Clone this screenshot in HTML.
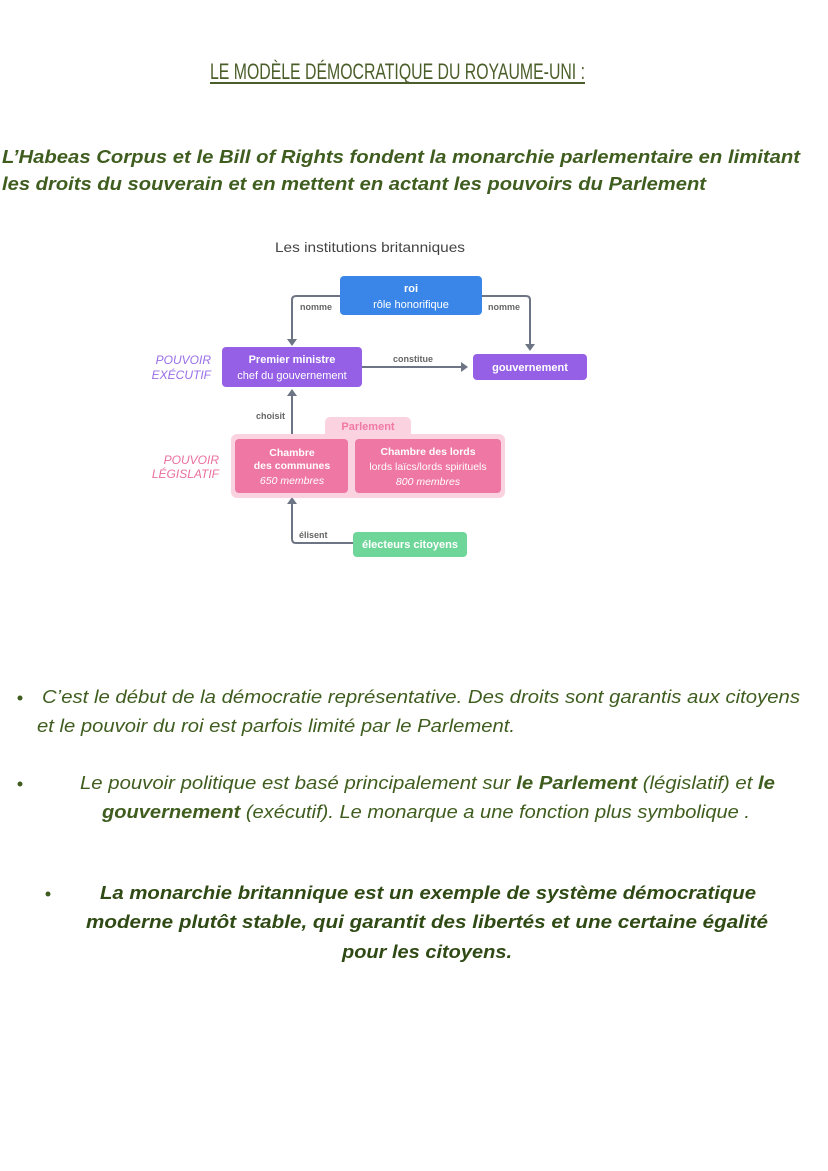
<!DOCTYPE html>
<html><head><meta charset="utf-8"><style>
html,body{margin:0;padding:0;background:#fff;}
svg{display:block;}
text{font-family:"Liberation Sans",sans-serif;}
</style></head><body>
<svg width="828" height="1171" viewBox="0 0 828 1171" xmlns="http://www.w3.org/2000/svg">
<rect width="828" height="1171" fill="#fff"/>
<!-- Title -->
<text x="210" y="79" font-size="22" fill="#4b5e2a" textLength="375" lengthAdjust="spacingAndGlyphs">LE MODÈLE DÉMOCRATIQUE DU ROYAUME-UNI :</text>
<rect x="210" y="82" width="375" height="2" fill="#4b5e2a"/>
<!-- Heading -->
<g fill="#3f5d1f" font-weight="bold" font-style="italic" font-size="18">
<text x="2" y="163" textLength="798" lengthAdjust="spacingAndGlyphs">L’Habeas Corpus et le Bill of Rights fondent la monarchie parlementaire en limitant</text>
<text x="2" y="190" textLength="704" lengthAdjust="spacingAndGlyphs">les droits du souverain et en mettent en actant les pouvoirs du Parlement</text>
</g>
<!-- Diagram -->
<text x="370" y="252" font-size="14" fill="#444" text-anchor="middle" textLength="190" lengthAdjust="spacingAndGlyphs">Les institutions britanniques</text>
<g stroke="#6d7585" stroke-width="2" fill="none">
<path d="M340 296 H296 Q292 296 292 300 V340"/>
<path d="M482 296 H526 Q530 296 530 300 V345"/>
<path d="M362 367 H462"/>
<path d="M292 434 V394"/>
<path d="M353 543 H296 Q292 543 292 539 V502"/>
</g>
<g fill="#6d7585">
<path d="M287 339 L297 339 L292 346 Z"/>
<path d="M525 344 L535 344 L530 351 Z"/>
<path d="M461 362 L461 372 L468 367 Z"/>
<path d="M287 396 L297 396 L292 389 Z"/>
<path d="M287 504 L297 504 L292 497 Z"/>
</g>
<g font-size="9" fill="#666" font-weight="bold">
<text x="300" y="310">nomme</text>
<text x="488" y="310">nomme</text>
<text x="393" y="362">constitue</text>
<text x="256" y="419">choisit</text>
<text x="299" y="538">élisent</text>
</g>
<rect x="340" y="276" width="142" height="39" rx="4" fill="#3a86e8"/>
<text x="411" y="292" font-size="11" fill="#fff" font-weight="bold" text-anchor="middle">roi</text>
<text x="411" y="308" font-size="11" fill="#fff" text-anchor="middle">rôle honorifique</text>
<rect x="222" y="347" width="140" height="40" rx="4" fill="#9560e6"/>
<text x="292" y="363" font-size="11" fill="#fff" font-weight="bold" text-anchor="middle">Premier ministre</text>
<text x="292" y="379" font-size="11" fill="#fff" text-anchor="middle">chef du gouvernement</text>
<rect x="473" y="354" width="114" height="26" rx="4" fill="#9560e6"/>
<text x="530" y="371" font-size="11" fill="#fff" font-weight="bold" text-anchor="middle">gouvernement</text>
<g font-style="italic" font-size="12" text-anchor="end">
<text x="211" y="364" fill="#9a6ee6">POUVOIR</text>
<text x="211" y="379" fill="#9a6ee6">EXÉCUTIF</text>
<text x="219" y="464" fill="#ea6f9e">POUVOIR</text>
<text x="219" y="478" fill="#ea6f9e">LÉGISLATIF</text>
</g>
<rect x="325" y="417" width="86" height="24" rx="5" fill="#fbd2e0"/>
<rect x="231" y="434" width="274" height="64" rx="6" fill="#fbd2e0"/>
<text x="368" y="430" font-size="11" fill="#f07aa4" font-weight="bold" text-anchor="middle">Parlement</text>
<rect x="235" y="439" width="113" height="54" rx="4" fill="#ef77a3"/>
<rect x="355" y="439" width="146" height="54" rx="4" fill="#ef77a3"/>
<g fill="#fff" font-size="10.5" text-anchor="middle">
<text x="292" y="456" font-weight="bold">Chambre</text>
<text x="292" y="469" font-weight="bold">des communes</text>
<text x="292" y="484" font-style="italic">650 membres</text>
<text x="428" y="455" font-weight="bold">Chambre des lords</text>
<text x="428" y="470">lords laïcs/lords spirituels</text>
<text x="428" y="485" font-style="italic">800 membres</text>
</g>
<rect x="353" y="532" width="114" height="25" rx="4" fill="#6fd69a"/>
<text x="410" y="548" font-size="11" fill="#fff" font-weight="bold" text-anchor="middle">électeurs citoyens</text>
<!-- Bullets -->
<g fill="#3f5d1f">
<circle cx="20" cy="698" r="2.5"/>
<circle cx="20" cy="784" r="2.5"/>
<circle cx="48" cy="894" r="2.5"/>
</g>
<g fill="#3f5d1f" font-style="italic" font-size="18">
<text x="42" y="703" textLength="758" lengthAdjust="spacingAndGlyphs">C’est le début de la démocratie représentative. Des droits sont garantis aux citoyens</text>
<text x="37" y="732" textLength="478" lengthAdjust="spacingAndGlyphs">et le pouvoir du roi est parfois limité par le Parlement.</text>
<text x="80" y="789" textLength="695" lengthAdjust="spacingAndGlyphs">Le pouvoir politique est basé principalement sur <tspan font-weight="bold">le Parlement</tspan> (législatif) et <tspan font-weight="bold">le</tspan></text>
<text x="102" y="818" textLength="648" lengthAdjust="spacingAndGlyphs"><tspan font-weight="bold">gouvernement</tspan> (exécutif). Le monarque a une fonction plus symbolique .</text>
</g>
<g fill="#2f4a14" font-style="italic" font-weight="bold" font-size="18">
<text x="100" y="899" textLength="656" lengthAdjust="spacingAndGlyphs">La monarchie britannique est un exemple de système démocratique</text>
<text x="86" y="928" textLength="682" lengthAdjust="spacingAndGlyphs">moderne plutôt stable, qui garantit des libertés et une certaine égalité</text>
<text x="342" y="958" textLength="170" lengthAdjust="spacingAndGlyphs">pour les citoyens.</text>
</g>
</svg>
</body></html>
